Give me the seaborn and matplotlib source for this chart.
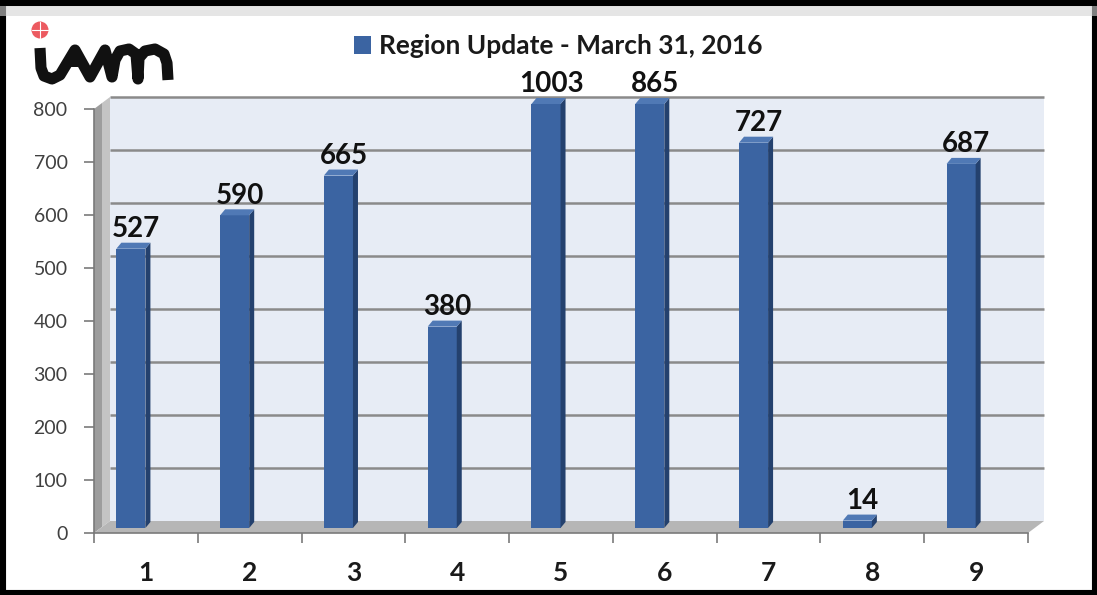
import numpy as np
import matplotlib
matplotlib.use("Agg")
import matplotlib.pyplot as plt
import seaborn as sns
import pandas as pd
from matplotlib.patches import Polygon, Rectangle, Patch, Ellipse
from matplotlib.lines import Line2D

# ---------------- data ----------------
categories = ["1", "2", "3", "4", "5", "6", "7", "8", "9"]
values = [527, 590, 665, 380, 1003, 865, 727, 14, 687]
y_ticks = [0, 100, 200, 300, 400, 500, 600, 700, 800]
legend_label = "Region Update - March 31, 2016"
axis_max = 800

# ---------------- style ----------------
sns.set_style("white")
plt.rcParams['font.family'] = ['Lato', 'DejaVu Sans']

front_col = "#3b64a2"
side_col = "#24416e"
top_col = "#5079b5"

W, H = 1097, 595
fig = plt.figure(figsize=(W / 100, H / 100), dpi=100)
fig.patch.set_facecolor("white")

# front box of the 3D plot in pixels
ax_l, ax_r, ax_b, ax_t = 94, 1028, 533, 109
ax = fig.add_axes([ax_l / W, 1 - ax_b / H, (ax_r - ax_l) / W, (ax_b - ax_t) / H])
ax.patch.set_visible(False)

n = len(categories)
px_x = (ax_r - ax_l) / n          # pixels per category
px_y = (ax_b - ax_t) / axis_max   # pixels per unit
shift = 15 / px_x                 # bars sit left of category label
lift = 5 / px_y                   # bars sit slightly behind front edge
dxD, dyD = 16 / px_x, 12 / px_y   # full depth of the box
ddx, ddy = 5 / px_x, 6 / px_y     # bar depth

df = pd.DataFrame({"region": categories, "count": values})
df["shown"] = df["count"].clip(upper=axis_max)

sns.barplot(data=df, x="region", y="shown", width=0.28, color=front_col,
            saturation=1, errorbar=None, bottom=lift, zorder=3, ax=ax,
            linewidth=0)

xl, xr = -0.5 + shift, n - 0.5 + shift
ax.set_xlim(xl, xr)
ax.set_ylim(0, axis_max)

# ---- back wall, side wall, floor ----
ax.add_patch(Rectangle((xl + dxD, dyD), xr - xl, axis_max, facecolor="#e7ecf5",
                       edgecolor="none", zorder=0.2, clip_on=False))
ax.hlines([t + dyD for t in y_ticks[1:]], xl + dxD, xr + dxD, colors="#8a8a8a",
          lw=1.8, zorder=0.5, clip_on=False)
half = dxD / 2
ax.add_patch(Polygon([(xl, 0), (xl + half, dyD / 2), (xl + half, axis_max + dyD / 2), (xl, axis_max)],
                     closed=True, facecolor="#9d9d9d", edgecolor="none", zorder=0.6, clip_on=False))
ax.add_patch(Polygon([(xl + half, dyD / 2), (xl + dxD, dyD), (xl + dxD, axis_max + dyD), (xl + half, axis_max + dyD / 2)],
                     closed=True, facecolor="#c4c4c4", edgecolor="none", zorder=0.6, clip_on=False))
ax.add_patch(Polygon([(xl, 0), (xr, 0), (xr + dxD, dyD), (xl + dxD, dyD)],
                     closed=True, facecolor="#b6b6b6", edgecolor="none", zorder=0.7, clip_on=False))

# ---- 3D bar faces and labels ----
for p, v in zip(ax.containers[0], values):
    p.set_clip_on(False)
    x0, w, y0, h = p.get_x(), p.get_width(), p.get_y(), p.get_height()
    top = y0 + h
    ax.add_patch(Polygon([(x0 + w, y0), (x0 + w + ddx, y0 + ddy), (x0 + w + ddx, top + ddy), (x0 + w, top)],
                         closed=True, facecolor=side_col, edgecolor="none", zorder=3.1, clip_on=False))
    ax.add_patch(Polygon([(x0, top), (x0 + w, top), (x0 + w + ddx, top + ddy), (x0 + ddx, top + ddy)],
                         closed=True, facecolor=top_col, edgecolor="none", zorder=3.1, clip_on=False))
    ax.annotate(str(v), (x0 + w / 2 + ddx / 2, top + ddy), xytext=(2, 4),
                textcoords="offset points", ha="center", va="baseline",
                fontsize=20, fontweight="bold", color="#111111",
                annotation_clip=False, zorder=4)

# ---- axes / ticks ----
for s in ["top", "right"]:
    ax.spines[s].set_visible(False)
for s in ["left", "bottom"]:
    ax.spines[s].set_color("#7a7a7a")
    ax.spines[s].set_linewidth(1.2)
    ax.spines[s].set_zorder(0.8)

ax.set_yticks(y_ticks)
ax.set_yticklabels([str(t) for t in y_ticks])
ax.tick_params(axis="y", direction="out", length=7, width=1.2, color="#7a7a7a",
               pad=12, labelsize=14, labelcolor="#404040", left=True)
ax.set_xticks(np.arange(n) + shift)
ax.set_xticklabels(categories, fontsize=19, fontweight="bold", color="#1a1a1a")
ax.set_xticks(np.arange(n + 1) - 0.5 + shift, minor=True)
ax.tick_params(axis="x", which="major", length=0, pad=20)
ax.tick_params(axis="x", which="minor", direction="out", length=7, width=1.2,
               color="#7a7a7a", bottom=True)
ax.set_xlabel("")
ax.set_ylabel("")
ax.grid(False)

# ---- legend ----
fig.legend(handles=[Patch(facecolor=front_col, edgecolor="none")], labels=[legend_label],
           loc="center", bbox_to_anchor=(558 / W, 1 - 46 / H), frameon=False,
           handlelength=0.65, handleheight=0.65, handletextpad=0.3,
           prop={"size": 19, "weight": "bold"}, labelcolor="#1a1a1a")

# ---- logo ----
logo_pts = [(40, 48), (41, 68), (44, 76), (52, 79), (60, 75), (75, 50), (90, 77),
            (105, 50), (112, 77), (115, 60), (120, 51), (129, 49), (136, 54), (138, 79),
            (139, 58), (145, 51), (155, 49), (164, 54), (167, 63), (168, 80)]
fig.add_artist(Line2D([x / W for x, y in logo_pts], [1 - y / H for x, y in logo_pts],
                      transform=fig.transFigure, color="#111111", lw=8,
                      solid_capstyle="butt", solid_joinstyle="round"))
fig.add_artist(Polygon([(70 / W, 1 - 67 / H), (80 / W, 1 - 67 / H), (75 / W, 1 - 59 / H)],
                       closed=True, transform=fig.transFigure, facecolor="#111111", edgecolor="none"))
fig.add_artist(Ellipse((40 / W, 1 - 30 / H), 17 / W, 17 / H, transform=fig.transFigure,
                       facecolor="#ec5a60", edgecolor="none"))
fig.add_artist(Line2D([32 / W, 48 / W], [1 - 30 / H, 1 - 30 / H], transform=fig.transFigure,
                      color="white", lw=0.8))
fig.add_artist(Line2D([40 / W, 40 / W], [1 - 22 / H, 1 - 38 / H], transform=fig.transFigure,
                      color="white", lw=0.8))

# ---- frame ----
fig.add_artist(Rectangle((0, 0), 1, 1, transform=fig.transFigure, fill=False,
                         edgecolor="black", lw=8))
fig.add_artist(Rectangle((0, 1 - 16 / H), 1, 10 / H, transform=fig.transFigure,
                         facecolor="#d5d5d5", edgecolor="none", alpha=0.6))

fig.savefig("out.png", dpi=100)
